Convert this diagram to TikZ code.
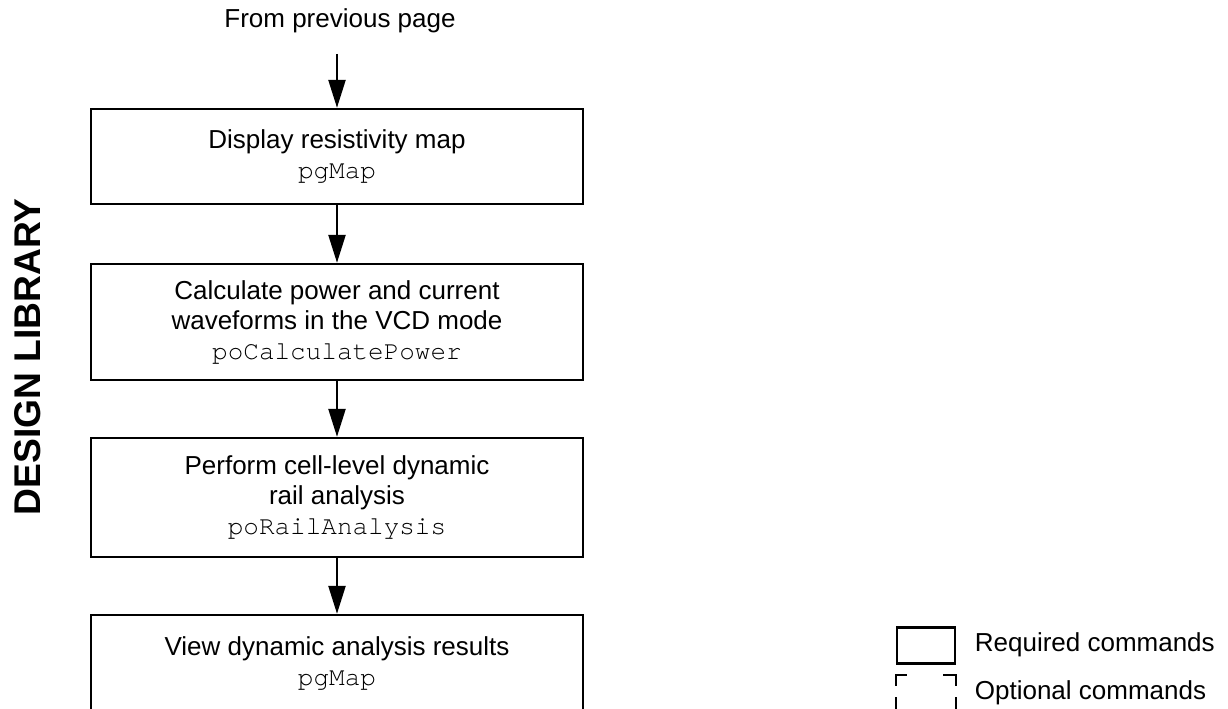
\documentclass[tikz,border=0pt]{standalone}
\usepackage{fontspec}
\setmainfont{Liberation Sans}
\setmonofont{texgyrecursor-regular.otf}
\usetikzlibrary{arrows.meta}
\tikzset{
	align=center,
	txt/.style={
		font=\fontsize{13}{15}\selectfont,
	},
	cmd/.style={
		txt,
		draw,
		rectangle,
		minimum width=246pt,
		inner sep=0pt,
	},
	flow/.style={
		-{Triangle[length=14pt,width=8.5pt]}
	},
	legbox/.style={
		draw,
		rectangle,
		minimum width=29pt,
		minimum height=18pt,
		inner sep=0pt,
	},
	% dashes kept on the corners, as in the legend
	optional/.style={line cap=rect, dash pattern=on 5pt off 19pt},
	optionalv/.style={line cap=rect, dash pattern=on 5pt off 6.5pt on 6.5pt off 1pt},
}

\begin{document}
\begin{tikzpicture}[x=0.5pt,y=-0.5pt,line width=1.2pt]
		\path[use as bounding box] (0,0) rectangle (1228,708);
		\clip (0,0) rectangle (1228,708);

		\node[rotate=90, font=\bfseries\fontsize{18.6}{20}\selectfont] (lib) at (28,357) {DESIGN LIBRARY};

		\node[txt] 					(from) at (340,21) {From previous page};

		\node[cmd, minimum height=47.5pt] (map) at (337,156.5) {Display resistivity map\\\texttt{pgMap}};
		\node[cmd, minimum height=58pt] (power) at (337,322) {Calculate power and current\\waveforms in the VCD mode\\\texttt{poCalculatePower}};
		\node[cmd, minimum height=59.5pt] (rail) at (337,497.5) {Perform cell-level dynamic\\rail analysis\\\texttt{poRailAnalysis}};
		\node[cmd, minimum height=48pt] (view) at (337,663) {View dynamic analysis results\\\texttt{pgMap}};

		\draw[flow, shorten <=6.5pt] (from.south -| map.north) -- (map);
		\draw[flow] 				(map) -- (power);
		\draw[flow] 				(power) -- (rail);
		\draw[flow] 				(rail) -- (view);

		% legend
		\node[legbox] 				(req) at (926,645.5) {};
		\node[legbox, draw=none] 	(opt) at (926,694) {};
		\draw[optional] 			(opt.north west) -- (opt.north east);
		\draw[optional] 			(opt.south west) -- (opt.south east);
		\draw[optionalv] 			(opt.north west) -- (opt.south west);
		\draw[optionalv] 			(opt.north east) -- (opt.south east);
		\node[txt, anchor=west] 	(reqtext) at (967,645) {Required commands};
		\node[txt, anchor=west] 	(opttext) at (967,693) {Optional commands};

	\end{tikzpicture}
\end{document}
